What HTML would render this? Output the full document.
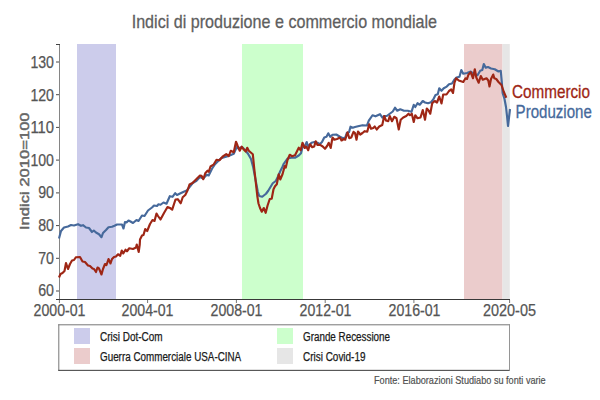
<!DOCTYPE html>
<html><head><meta charset="utf-8"><style>
html,body{margin:0;padding:0;background:#fff;}
svg{display:block;}
text{font-family:"Liberation Sans",sans-serif;}
</style></head><body>
<svg width="600" height="400" viewBox="0 0 600 400">
<rect width="600" height="400" fill="#fff"/>
<!-- bands -->
<rect x="77" y="44" width="39" height="255" fill="#cccceb"/>
<rect x="242" y="44" width="61" height="255" fill="#ccffcc"/>
<rect x="464" y="44" width="38.5" height="255" fill="#ebcccc"/>
<rect x="502.5" y="44" width="7.3" height="255" fill="#e6e6e6"/>
<!-- axes -->
<g stroke-width="1" fill="none">
<path d="M59.5,44V300" stroke="#858585" shape-rendering="crispEdges"/>
<path d="M56,44.5H60" stroke="#444" shape-rendering="crispEdges"/>
<path d="M56,299.5H510" stroke="#383838" shape-rendering="crispEdges"/>
<path d="M56,62H59 M56,94.7H59 M56,127.4H59 M56,160.1H59 M56,192.9H59 M56,225.6H59 M56,258.3H59 M56,291H59" stroke="#4a4a4a"/>
<path d="M59.4,300V303 M147.6,300V303 M236.4,300V303 M325.2,300V303 M413.9,300V303 M509.6,300V303" stroke="#777"/>
</g>
<!-- lines -->
<path d="M59.00,238.50 L61.00,231.00 L64.00,227.50 L68.00,226.50 L71.00,225.00 L74.00,225.50 L78.00,224.20 L81.00,225.80 L83.00,225.20 L86.00,227.50 L89.00,228.00 L92.00,232.00 L93.80,230.50 L96.00,232.50 L99.00,234.20 L101.50,237.20 L103.00,233.00 L106.00,230.00 L108.50,227.20 L112.00,226.80 L114.50,225.80 L117.00,224.50 L122.00,224.50 L123.50,228.50 L125.00,222.00 L126.50,222.50 L128.50,220.50 L130.50,221.50 L133.00,223.00 L136.50,220.00 L138.50,221.00 L142.00,215.50 L144.50,216.00 L148.00,210.50 L152.00,207.50 L154.00,205.50 L157.00,206.00 L158.50,204.30 L160.50,204.75 L163.50,202.50 L166.50,203.70 L169.80,196.20 L172.50,196.80 L175.20,193.20 L177.00,195.00 L180.00,193.50 L183.75,191.70 L186.75,190.50 L189.75,186.75 L192.75,183.00 L196.50,180.75 L200.00,177.00 L203.30,178.50 L206.75,174.75 L208.70,175.50 L212.00,168.75 L215.00,164.25 L221.00,158.25 L228.50,156.00 L233.75,153.75 L236.75,147.00 L238.25,148.50 L242.00,147.00 L245.00,150.00 L248.00,153.75 L251.00,159.00 L253.25,167.50 L255.50,179.50 L257.75,191.50 L259.25,196.00 L262.25,196.75 L266.00,193.75 L268.25,190.75 L270.50,187.00 L272.75,183.25 L275.75,181.00 L278.00,176.50 L280.25,171.25 L282.50,166.75 L283.75,163.75 L287.50,158.50 L291.25,157.75 L295.00,157.75 L298.75,155.50 L301.00,153.25 L302.50,147.25 L304.75,146.50 L306.70,142.00 L308.20,146.50 L311.50,142.75 L314.50,142.00 L317.50,142.75 L319.75,144.25 L322.00,142.00 L324.25,137.50 L326.50,136.75 L328.30,133.30 L330.25,136.75 L332.50,134.80 L336.25,134.50 L340.00,136.75 L343.00,138.25 L345.25,137.50 L346.75,133.00 L349.00,132.25 L350.50,126.70 L352.75,127.75 L355.00,127.00 L358.00,126.25 L362.50,125.20 L367.00,125.50 L368.80,120.70 L372.50,115.25 L375.50,116.30 L380.00,114.20 L382.25,117.50 L384.50,116.00 L386.75,116.00 L389.75,113.75 L392.75,111.50 L395.00,107.75 L397.25,110.75 L400.25,109.25 L404.00,110.75 L407.75,110.75 L411.50,111.80 L413.75,104.75 L415.25,107.00 L417.50,103.25 L419.75,104.75 L422.75,101.00 L425.00,102.50 L428.00,103.25 L431.00,102.20 L433.25,99.50 L435.50,95.00 L437.75,94.25 L439.25,88.25 L441.50,90.80 L443.75,88.25 L446.75,86.60 L449.00,84.25 L452.00,83.50 L454.25,79.75 L456.50,77.50 L459.50,76.75 L461.30,70.00 L463.25,73.75 L467.00,73.00 L470.75,71.50 L473.75,73.75 L477.50,75.25 L480.20,70.75 L482.30,70.00 L483.80,64.00 L485.75,67.75 L488.00,67.00 L491.00,68.50 L494.75,69.25 L498.50,71.50 L500.75,70.75 L501.80,82.00 L502.60,93.00 L504.50,99.00 L506.00,107.00 L507.00,116.00 L508.00,126.00 L510.00,109.00" fill="none" stroke="#46699b" stroke-width="2.15" stroke-linejoin="round"/>
<path d="M59.00,277.50 L60.50,274.00 L62.50,273.00 L64.50,271.00 L66.00,263.00 L68.00,269.00 L70.00,264.00 L72.00,260.50 L74.00,260.00 L76.00,257.20 L80.00,257.00 L82.50,261.50 L85.00,262.00 L88.00,265.50 L90.00,266.00 L92.50,268.50 L94.00,269.00 L96.00,272.00 L97.50,267.50 L99.00,268.50 L101.50,274.50 L103.00,269.00 L105.00,264.00 L106.50,265.00 L108.50,259.00 L110.50,263.50 L112.00,259.00 L114.00,257.00 L116.00,256.50 L118.00,254.25 L120.25,255.75 L121.75,250.50 L123.25,253.50 L125.50,249.75 L127.00,251.25 L129.25,248.25 L133.00,249.00 L136.00,247.50 L136.75,244.50 L138.70,252.00 L139.75,244.50 L140.00,239.50 L142.00,235.50 L143.50,235.00 L145.20,229.00 L147.20,231.00 L150.00,224.00 L152.50,220.00 L154.50,221.00 L156.50,213.50 L158.00,216.00 L160.50,219.50 L164.00,213.00 L167.50,207.00 L170.00,208.00 L172.20,209.55 L175.50,199.50 L177.75,199.20 L180.75,203.25 L182.70,197.25 L185.25,195.00 L187.50,190.50 L189.50,184.50 L192.50,183.00 L196.25,179.25 L200.00,175.50 L201.50,175.80 L203.30,179.25 L205.25,173.25 L207.50,170.70 L208.70,171.75 L210.50,166.50 L213.50,164.70 L216.50,159.75 L219.50,160.20 L222.50,156.75 L226.25,154.20 L228.80,156.00 L230.75,150.75 L233.75,152.25 L236.00,141.75 L237.50,145.50 L239.75,150.75 L241.70,146.70 L243.50,149.25 L245.75,151.50 L247.25,147.75 L248.75,150.75 L252.80,154.20 L254.30,169.00 L255.80,182.50 L257.30,196.00 L258.50,203.50 L260.00,208.00 L261.80,211.75 L263.75,208.00 L265.70,212.80 L267.50,205.75 L269.75,199.00 L271.70,198.70 L273.50,189.25 L275.00,186.25 L276.80,184.30 L278.75,174.25 L280.25,179.50 L282.50,174.25 L284.75,166.00 L285.80,167.50 L287.50,160.00 L289.75,154.75 L292.00,156.25 L295.00,155.20 L298.75,147.70 L300.70,150.25 L302.50,142.75 L304.75,148.00 L306.25,146.50 L308.20,150.25 L310.00,144.25 L312.25,147.25 L314.20,146.50 L315.70,141.25 L317.50,145.00 L319.75,144.70 L322.75,146.50 L325.00,148.75 L327.25,145.75 L328.75,142.75 L330.70,148.00 L332.50,137.50 L334.30,139.75 L337.00,139.00 L340.00,137.50 L341.50,140.50 L343.75,139.00 L345.25,139.75 L347.50,132.25 L349.30,138.25 L351.25,137.50 L353.50,131.80 L355.00,133.00 L356.50,139.75 L358.00,131.50 L360.25,134.50 L362.50,133.00 L364.75,131.20 L367.25,131.75 L369.20,124.25 L371.00,128.75 L373.25,128.00 L374.75,126.50 L376.70,129.50 L379.25,126.50 L382.25,125.00 L384.20,116.00 L386.00,120.50 L388.25,121.25 L389.75,116.00 L392.00,121.25 L394.25,116.75 L396.50,118.25 L398.75,129.50 L400.70,119.75 L403.25,117.50 L406.25,116.00 L408.50,113.75 L410.00,115.25 L411.80,113.75 L413.75,122.00 L415.25,115.25 L417.50,118.25 L420.50,117.50 L422.75,110.00 L425.00,119.75 L426.80,108.50 L428.75,110.75 L430.25,113.75 L432.20,103.25 L434.75,101.00 L437.00,102.50 L439.25,96.50 L441.50,103.50 L443.20,94.50 L446.50,94.50 L449.00,91.00 L451.25,89.50 L453.00,93.00 L454.50,82.50 L456.20,78.25 L458.75,80.50 L463.25,82.00 L465.50,78.25 L467.00,79.00 L468.50,74.50 L470.75,72.25 L473.00,78.25 L474.80,69.25 L476.30,77.50 L478.70,82.75 L480.80,76.00 L482.75,79.75 L486.50,78.25 L488.30,80.50 L489.50,86.50 L491.00,79.00 L493.25,74.50 L494.30,78.25 L496.25,79.00 L498.50,82.00 L501.50,85.00 L503.75,91.75 L506.30,97.75" fill="none" stroke="#9e2615" stroke-width="2.15" stroke-linejoin="round"/>
<!-- title -->
<text x="131.7" y="27.7" font-size="19" fill="#5e5e5e" stroke="#5e5e5e" stroke-width="0.3" textLength="305.3" lengthAdjust="spacingAndGlyphs">Indici di produzione e commercio mondiale</text>
<!-- y ticks -->
<g font-size="16.3" fill="#555" stroke="#555" stroke-width="0.25" text-anchor="end">
<text x="54" y="68" textLength="23.6" lengthAdjust="spacingAndGlyphs">130</text>
<text x="54" y="101" textLength="23.6" lengthAdjust="spacingAndGlyphs">120</text>
<text x="54" y="133" textLength="23.6" lengthAdjust="spacingAndGlyphs">110</text>
<text x="54" y="166" textLength="23.6" lengthAdjust="spacingAndGlyphs">100</text>
<text x="54" y="198" textLength="15.8" lengthAdjust="spacingAndGlyphs">90</text>
<text x="54" y="231" textLength="15.8" lengthAdjust="spacingAndGlyphs">80</text>
<text x="54" y="264" textLength="15.8" lengthAdjust="spacingAndGlyphs">70</text>
<text x="54" y="296" textLength="15.8" lengthAdjust="spacingAndGlyphs">60</text>
</g>
<!-- x ticks -->
<g font-size="16.3" fill="#555" stroke="#555" stroke-width="0.25" text-anchor="middle">
<text x="59.5" y="316" textLength="52" lengthAdjust="spacingAndGlyphs">2000-01</text>
<text x="147.5" y="316" textLength="52" lengthAdjust="spacingAndGlyphs">2004-01</text>
<text x="236.5" y="316" textLength="52" lengthAdjust="spacingAndGlyphs">2008-01</text>
<text x="325.5" y="316" textLength="52" lengthAdjust="spacingAndGlyphs">2012-01</text>
<text x="414.5" y="316" textLength="52" lengthAdjust="spacingAndGlyphs">2016-01</text>
<text x="509.5" y="316" textLength="53" lengthAdjust="spacingAndGlyphs">2020-05</text>
</g>
<!-- y label -->
<text transform="translate(28.6,171.2) rotate(-90)" font-size="13.5" fill="#666" stroke="#666" stroke-width="0.45" text-anchor="middle" textLength="117.6" lengthAdjust="spacingAndGlyphs">Indici 2010=100</text>
<!-- series labels -->
<text x="512" y="98" font-size="18.3" fill="#9e2615" stroke="#9e2615" stroke-width="0.3" textLength="78" lengthAdjust="spacingAndGlyphs">Commercio</text>
<text x="515.6" y="118.1" font-size="18.3" fill="#46699b" stroke="#46699b" stroke-width="0.3" textLength="76.2" lengthAdjust="spacingAndGlyphs">Produzione</text>
<!-- legend -->
<rect x="59" y="325" width="450.5" height="45.3" fill="#fff"/>
<g stroke-width="1" fill="none">
<path d="M58.3,324.8H510" stroke="#777"/>
<path d="M58.8,324.3V370.8" stroke="#777"/>
<path d="M58.3,370.35H510" stroke="#3a3a3a"/>
<path d="M509.5,324.3V370.8" stroke="#959595"/>
</g>
<rect x="74" y="328" width="16" height="16" fill="#cccceb"/>
<rect x="74" y="348" width="16" height="16" fill="#ebcccc"/>
<rect x="277" y="328" width="16" height="16" fill="#ccffcc"/>
<rect x="277" y="348" width="16" height="16" fill="#e6e6e6"/>
<g font-size="12" fill="#1a1a1a" stroke="#1a1a1a" stroke-width="0.25">
<text x="100" y="341.4" textLength="62.6" lengthAdjust="spacingAndGlyphs">Crisi Dot-Com</text>
<text x="100" y="361" textLength="141.2" lengthAdjust="spacingAndGlyphs">Guerra Commerciale USA-CINA</text>
<text x="303" y="341.4" textLength="87" lengthAdjust="spacingAndGlyphs">Grande Recessione</text>
<text x="303" y="361" textLength="62.5" lengthAdjust="spacingAndGlyphs">Crisi Covid-19</text>
</g>
<!-- source -->
<text x="374" y="384.3" font-size="11.2" fill="#505050" stroke="#505050" stroke-width="0.2" textLength="171.7" lengthAdjust="spacingAndGlyphs">Fonte: Elaborazioni Studiabo su fonti varie</text>
</svg>
</body></html>
